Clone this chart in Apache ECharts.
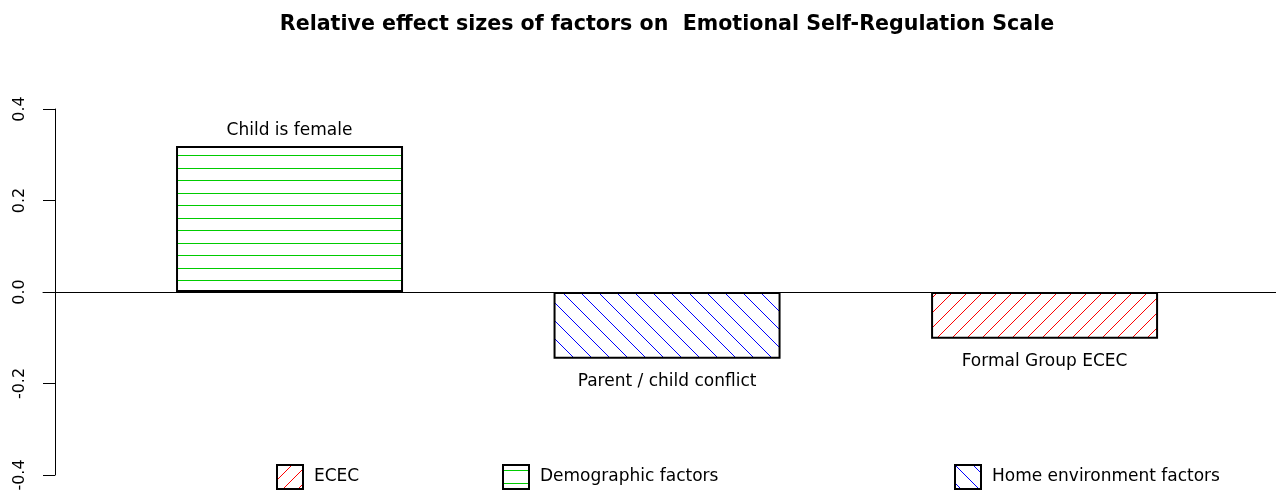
<!DOCTYPE html>
<html lang="en">
<head>
<meta charset="UTF-8">
<title>Relative effect sizes</title>
<script src="https://cdn.jsdelivr.net/npm/echarts@6/dist/echarts.min.js"></script>
<style>
    html, body { margin: 0; padding: 0; background: #fff; }
    #main { width: 1276px; height: 493px; }
</style>
</head>
<body>
<div id="main"></div>
<script>
    // one entry per bar
    var barNames = ['Child is female', 'Parent / child conflict', 'Formal Group ECEC'];
    var barGroups = ['Demographic factors', 'Home environment factors', 'ECEC'];
    var barValues = [0.319, -0.146, -0.102];
    var barPos = [1, 2, 3];
    // legend order, left to right
    var legendNames = ['ECEC', 'Demographic factors', 'Home environment factors'];
    var yTicks = [-0.4, -0.2, 0.0, 0.2, 0.4];

    // R style hatching, drawn pixel by pixel into a small tile
    function hatch(kind, color, s) {
        var c = document.createElement('canvas');
        c.width = kind === 'h' ? 4 : s;
        c.height = s;
        var ctx = c.getContext('2d');
        ctx.fillStyle = '#ffffff';
        ctx.fillRect(0, 0, c.width, c.height);
        ctx.fillStyle = color;
        if (kind === 'h') {
            ctx.fillRect(0, 5, 4, 1);
            ctx.fillRect(0, 18, 4, 1);
        } else {
            for (var i = 0; i < s; i++) {
                if (kind === '/') ctx.fillRect(i, s - 1 - i, 1, 1);
                else ctx.fillRect(i, i, 1, 1);
            }
        }
        return { image: c, repeat: 'repeat' };
    }

    var fills = {
        'ECEC': hatch('/', '#ff0000', 15),
        'Demographic factors': hatch('h', '#00cc00', 25),
        'Home environment factors': hatch('\\', '#0000ff', 18)
    };
    var legendLeft = [276, 502, 954];

    var series = legendNames.map(function (g) {
        var data = [];
        for (var i = 0; i < barValues.length; i++) {
            if (barGroups[i] !== g) continue;
            var up = barValues[i] >= 0;
            data.push({
                name: barNames[i],
                value: [barPos[i], barValues[i]],
                label: { position: up ? 'top' : 'bottom', distance: up ? 7 : 14 }
            });
        }
        return {
            name: g,
            type: 'bar',
            barWidth: 227,
            barGap: '-100%',
            itemStyle: { color: fills[g], borderColor: '#000', borderWidth: 2 },
            label: { show: true, formatter: '{b}', fontSize: 17, color: '#000' },
            data: data
        };
    });

    var myChart = echarts.init(document.getElementById('main'));
    var option = {
        animation: false,
        textStyle: { fontFamily: 'DejaVu Sans, sans-serif' },
        title: {
            text: 'Relative effect sizes of factors on  Emotional Self-Regulation Scale',
            left: 662,
            textAlign: 'center',
            top: 9,
            textStyle: { fontSize: 20.6, fontWeight: 'bold', color: '#000' }
        },
        legend: legendNames.map(function (n, i) {
            return {
                data: [n],
                left: legendLeft[i],
                top: 464,
                padding: 0,
                icon: 'rect',
                itemWidth: 26,
                itemHeight: 24,
                selectedMode: false,
                itemStyle: { borderColor: '#000', borderWidth: 2 },
                textStyle: { fontSize: 17, color: '#000', padding: [4, 0, 0, 6] }
            };
        }),
        grid: { left: 43, right: 0, top: 109, bottom: 18, outerBoundsMode: 'none' },
        xAxis: {
            type: 'value',
            min: 0.347,
            max: 3.613,
            axisLine: { show: true, onZero: true, lineStyle: { color: '#000', width: 1 } },
            axisTick: { show: false },
            axisLabel: { show: false },
            splitLine: { show: false }
        },
        yAxis: {
            type: 'value',
            min: yTicks[0],
            max: yTicks[yTicks.length - 1],
            interval: 0.2,
            offset: -12,
            axisLine: { show: true, lineStyle: { color: '#000', width: 1 } },
            axisTick: { show: true, length: 12, lineStyle: { color: '#000' } },
            axisLabel: {
                rotate: 90,
                margin: 27,
                fontSize: 16,
                color: '#000',
                formatter: function (v) { return v.toFixed(1); }
            },
            splitLine: { show: false }
        },
        series: series
    };
    myChart.setOption(option);
</script>
</body>
</html>
